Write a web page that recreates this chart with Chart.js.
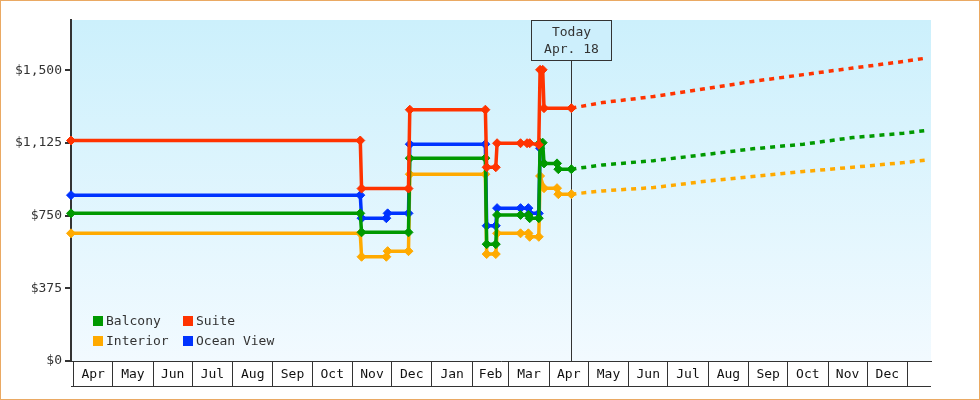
<!DOCTYPE html>
<html>
<head>
<meta charset="utf-8">
<title>Cabin price history</title>
<script src="https://cdn.jsdelivr.net/npm/chart.js@4/dist/chart.umd.min.js"></script>
<style>
  html, body { margin: 0; padding: 0; background: #fff; }
  #wrap { position: relative; width: 980px; height: 400px; }
  #frame { position: absolute; left: 0; top: 0; width: 980px; height: 400px; box-sizing: border-box;
           border: 1px solid #eaa963; pointer-events: none; }
  canvas { display: block; }
</style>
</head>
<body>
<div id="wrap"><canvas id="chart" width="980" height="400"></canvas><div id="frame"></div></div>
<script>
// ---- data -------------------------------------------------------------
const monthLabels = ['Apr','May','Jun','Jul','Aug','Sep','Oct','Nov','Dec','Jan','Feb','Mar',
                     'Apr','May','Jun','Jul','Aug','Sep','Oct','Nov','Dec'];
const monthStarts = ['2022-04-01','2022-05-01','2022-06-01','2022-07-01','2022-08-01','2022-09-01',
                     '2022-10-01','2022-11-01','2022-12-01','2023-01-01','2023-02-01','2023-03-01',
                     '2023-04-01','2023-05-01','2023-06-01','2023-07-01','2023-08-01','2023-09-01',
                     '2023-10-01','2023-11-01','2023-12-01','2024-01-01'];
const yTicks = [0, 375, 750, 1125, 1500];
const rangeStart = '2022-03-30';
const rangeEnd = '2024-01-19';
const today = '2023-04-18';

const balconyDates = ['2022-03-30','2022-11-07','2022-11-08','2022-12-14','2022-12-15','2023-02-11',
                      '2023-02-12','2023-02-19','2023-02-20','2023-03-10','2023-03-16','2023-03-17',
                      '2023-03-24','2023-03-25','2023-03-27','2023-03-28','2023-04-07','2023-04-08','2023-04-18'];
const balconyPrices = [762, 762, 664, 664, 1047, 1047, 603, 603, 754, 754, 754, 737,
                       737, 1127, 1127, 1020, 1020, 990, 990];

const suiteDates = ['2022-03-30','2022-11-07','2022-11-08','2022-12-14','2022-12-15','2023-02-11',
                    '2023-02-12','2023-02-19','2023-02-20','2023-03-10','2023-03-15','2023-03-17',
                    '2023-03-24','2023-03-25','2023-03-27','2023-03-28','2023-04-18'];
const suitePrices = [1138, 1138, 890, 890, 1297, 1297, 1000, 1000, 1124, 1124, 1124, 1124,
                     1116, 1503, 1503, 1305, 1305];

const interiorDates = ['2022-03-30','2022-11-07','2022-11-08','2022-11-27','2022-11-28','2022-12-14',
                       '2022-12-15','2023-02-11','2023-02-12','2023-02-19','2023-02-20','2023-03-10',
                       '2023-03-16','2023-03-17','2023-03-24','2023-03-25','2023-03-28','2023-04-07',
                       '2023-04-08','2023-04-18'];
const interiorPrices = [659, 659, 538, 538, 567, 567, 964, 964, 552, 552, 659, 659,
                        659, 641, 641, 955, 892, 892, 861, 861];

const oceanViewDates = ['2022-03-30','2022-11-07','2022-11-08','2022-11-27','2022-11-28','2022-12-14',
                        '2022-12-15','2023-02-11','2023-02-12','2023-02-19','2023-02-20','2023-03-10',
                        '2023-03-16','2023-03-17','2023-03-24','2023-03-25'];
const oceanViewPrices = [856, 856, 737, 737, 762, 762, 1119, 1119, 698, 698, 789, 789,
                         789, 762, 762, 1098];

// projected prices after today
const forecastDates = ['2023-05-12','2023-06-20','2023-07-28','2023-09-04','2023-10-13',
                       '2023-11-20','2023-12-29','2024-01-16'];
const balconyForecast = [1012, 1034, 1064, 1095, 1119, 1153, 1176, 1190];
const suiteForecast = [1334, 1365, 1404, 1443, 1478, 1512, 1546, 1564];
const interiorForecast = [878, 895, 926, 952, 978, 1000, 1024, 1038];

// ---- helpers ----------------------------------------------------------
const FONT = "'DejaVu Sans Mono', monospace";
const INK = '#333';
const EPOCH = Date.UTC(2022, 3, 1);
const toDay = s => (Date.parse(s + 'T00:00:00Z') - EPOCH) / 86400000;

const boundaryDays = monthStarts.map(toDay);
const monthAt = new Map();
monthLabels.forEach((m, i) => monthAt.set((boundaryDays[i] + boundaryDays[i + 1]) / 2, m));
const xTickValues = boundaryDays.concat([...monthAt.keys()]).sort((a, b) => a - b);

const todayDay = toDay(today);
const MONTH_ABBR = ['Jan','Feb','Mar','Apr','May','Jun','Jul','Aug','Sep','Oct','Nov','Dec'];
const todayDate = new Date(today + 'T00:00:00Z');
const todayText = MONTH_ABBR[todayDate.getUTCMonth()] + '. ' + todayDate.getUTCDate();

const series = [
  { label: 'Balcony',    color: '#009900', dates: balconyDates,   prices: balconyPrices,   forecast: balconyForecast,  order: 1 },
  { label: 'Suite',      color: '#ff3300', dates: suiteDates,     prices: suitePrices,     forecast: suiteForecast,    order: 0 },
  { label: 'Interior',   color: '#ffaa00', dates: interiorDates,  prices: interiorPrices,  forecast: interiorForecast, order: 3 },
  { label: 'Ocean View', color: '#0033ff', dates: oceanViewDates, prices: oceanViewPrices, forecast: [],               order: 2 }
];

const datasets = series.map(s => {
  const history = s.dates.map((d, i) => ({ x: toDay(d), y: s.prices[i] }));
  const future = s.forecast.map((p, i) => ({ x: toDay(forecastDates[i]), y: p }));
  const n = history.length;
  return {
    label: s.label,
    data: history.concat(future),
    order: s.order,
    borderColor: s.color,
    backgroundColor: s.color,
    borderWidth: 3.5,
    tension: 0,
    fill: false,
    clip: false,
    pointStyle: 'rectRot',
    pointRadius: ctx => (ctx.dataIndex < n ? 4.5 : 0),
    pointHoverRadius: 0,
    pointBorderWidth: 1,
    pointBorderColor: s.color,
    pointBackgroundColor: s.color,
    segment: { borderDash: ctx => (ctx.p0DataIndex >= n - 1 ? [5, 5] : []) }
  };
});

// ---- plugins ----------------------------------------------------------
const backdrop = {
  id: 'backdrop',
  beforeDraw(chart) {
    const { ctx, chartArea: a } = chart;
    const g = ctx.createLinearGradient(0, a.top, 0, a.bottom);
    g.addColorStop(0, '#ccf0fc');
    g.addColorStop(1, '#f2faff');
    ctx.save();
    ctx.fillStyle = g;
    ctx.fillRect(a.left, a.top, a.right - a.left, a.bottom - a.top);
    ctx.restore();
  },
  afterDraw(chart) {
    // closing line under the month boxes
    const { ctx, chartArea: a } = chart;
    const y = Math.round(chart.scales.x.top + 25) + 0.5;
    ctx.save();
    ctx.strokeStyle = INK;
    ctx.lineWidth = 1;
    ctx.beginPath();
    ctx.moveTo(a.left, y);
    ctx.lineTo(a.right, y);
    ctx.stroke();
    ctx.restore();
  }
};

const todayMarker = {
  id: 'todayMarker',
  beforeDatasetsDraw(chart) {
    const { ctx, chartArea: a } = chart;
    const x = Math.round(chart.scales.x.getPixelForValue(todayDay)) + 0.5;
    const boxW = 80, boxH = 40;
    const top = a.top + 0.5;
    ctx.save();
    ctx.strokeStyle = INK;
    ctx.lineWidth = 1;
    ctx.beginPath();
    ctx.moveTo(x, top + boxH);
    ctx.lineTo(x, a.bottom);
    ctx.stroke();
    ctx.fillStyle = '#cdeffc';
    ctx.fillRect(x - boxW / 2, top, boxW, boxH);
    ctx.strokeRect(x - boxW / 2, top, boxW, boxH);
    ctx.fillStyle = INK;
    ctx.font = '13px ' + FONT;
    ctx.textAlign = 'center';
    ctx.textBaseline = 'middle';
    ctx.fillText('Today', x, a.top + 13);
    ctx.fillText(todayText, x, a.top + 30);
    ctx.restore();
  }
};

const gridLegend = {
  id: 'gridLegend',
  afterDatasetsDraw(chart) {
    const { ctx, chartArea: a } = chart;
    ctx.save();
    ctx.font = '13px ' + FONT;
    ctx.textAlign = 'left';
    ctx.textBaseline = 'middle';
    chart.data.datasets.forEach((ds, i) => {
      const col = i % 2, row = Math.floor(i / 2);
      const sx = a.left + 22 + col * 90;
      const sy = a.bottom - 45 + row * 20;
      ctx.fillStyle = ds.borderColor;
      ctx.fillRect(sx, sy, 10, 10);
      ctx.fillStyle = INK;
      ctx.fillText(ds.label, sx + 13, sy + 5.5);
    });
    ctx.restore();
  }
};

// ---- chart ------------------------------------------------------------
Chart.defaults.font.family = FONT;
Chart.defaults.font.size = 13;

new Chart(document.getElementById('chart'), {
  type: 'line',
  data: { datasets },
  plugins: [backdrop, todayMarker, gridLegend],
  options: {
    responsive: false,
    animation: false,
    events: [],
    layout: { padding: { top: 20, right: 49, left: 0, bottom: 0 } },
    plugins: { legend: { display: false }, tooltip: { enabled: false } },
    scales: {
      x: {
        type: 'linear',
        position: 'bottom',
        min: toDay(rangeStart),
        max: toDay(rangeEnd),
        afterBuildTicks: scale => { scale.ticks = xTickValues.map(v => ({ value: v })); },
        afterFit: scale => { scale.height = 39; },
        ticks: {
          autoSkip: false, maxRotation: 0, minRotation: 0, padding: -19,
          color: '#111', font: { family: FONT, size: 13 },
          callback: v => (monthAt.has(v) ? monthAt.get(v) : '')
        },
        grid: {
          drawOnChartArea: false, drawTicks: true, tickLength: 25, lineWidth: 1,
          tickColor: ctx => (ctx.tick && monthAt.has(ctx.tick.value) ? 'rgba(0,0,0,0)' : INK)
        },
        border: { display: true, color: INK, width: 1 }
      },
      y: {
        min: 0,
        max: 1760,
        afterBuildTicks: scale => { scale.ticks = yTicks.map(v => ({ value: v })); },
        afterFit: scale => { scale.width = 71; },
        ticks: {
          padding: 3, color: INK, font: { family: FONT, size: 13 },
          callback: v => '$' + Number(v).toLocaleString('en-US')
        },
        grid: { drawOnChartArea: false, drawTicks: true, tickLength: 6, lineWidth: 2, tickColor: INK, color: INK },
        border: { display: true, color: INK, width: 2 }
      }
    }
  }
});
</script>
</body>
</html>
